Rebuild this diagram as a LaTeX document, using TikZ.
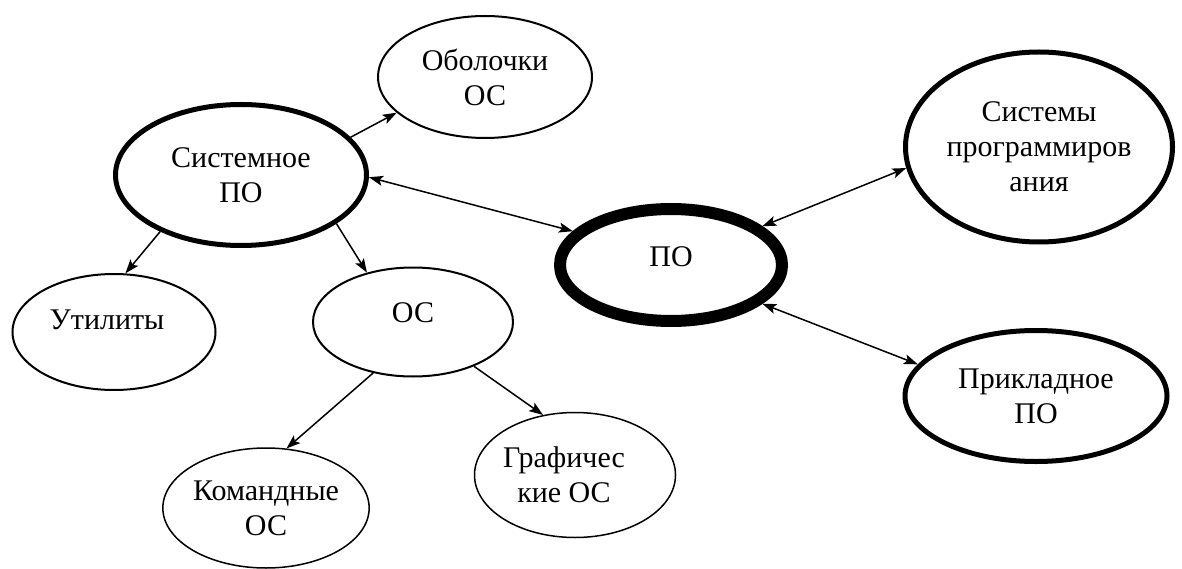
\documentclass[tikz,border=0pt]{standalone}
\usepackage{fontspec}
\setmainfont{Liberation Serif}
\newfontfamily\serf{Liberation Serif}
\usetikzlibrary{shapes.geometric,arrows.meta}
\begin{document}
\begin{tikzpicture}[x=1pt,y=-1pt,
  every node/.style={font=\serf\fontsize{30}{35}\selectfont, align=center, inner sep=0pt},
  oval/.style={ellipse, draw, line width=#1},
  oval/.default=2pt,
  tip/.tip={Stealth[length=14pt,width=10pt,inset=3pt]},
  arr/.style={line width=1.5pt, -tip},
  darr/.style={line width=1.5pt, tip-tip}]
\useasboundingbox[fill=white] (0,0) rectangle (1182,569);
% ellipses
\node[oval=2pt, minimum width=214pt, minimum height=122pt] (obol) at (485,77) {Оболочки\\ОС};
\node[oval=5pt, minimum width=251pt, minimum height=141pt] (sys) at (241,175) {Системное\\ПО};
\node[oval=12pt, minimum width=222pt, minimum height=112pt, label={[yshift=8pt]center:ПО}] (po) at (671,265) {};
\node[oval=5pt, minimum width=267pt, minimum height=190pt] (prog) at (1039,147) {Системы\\программиров\\ания};
\node[oval=5pt, minimum width=262pt, minimum height=131pt] (prikl) at (1036,396) {Прикладное\\ПО};
\node[oval=2pt, minimum width=203pt, minimum height=116pt, label={[yshift=12pt,xshift=-7pt]center:Утилиты}] (util) at (114,332) {};
\node[oval=2pt, minimum width=200pt, minimum height=109pt, label={[yshift=9pt]center:ОС}] (os) at (413,322) {};
\node[oval=1.5pt, minimum width=205pt, minimum height=120pt] (kom) at (266,508) {Командные\\ОС};
\node[oval=1.5pt, minimum width=201pt, minimum height=125pt, label={[xshift=-11pt]center:Графичес\\кие ОС}] (graf) at (575,475) {};
% connectors
\draw[arr] (sys.19) -- (obol.202);
\draw[darr] (sys.-1) -- (po.161);
\draw[darr] (po.23) -- (prog.189);
\draw[darr] (po.-23) -- (prikl.165);
\draw[arr] (sys.215) -- (util.79);
\draw[arr] (sys.-27) -- (os.133);
\draw[arr] (os.232) -- (kom.71);
\draw[arr] (os.-36) -- (graf.118);
\end{tikzpicture}
\end{document}
